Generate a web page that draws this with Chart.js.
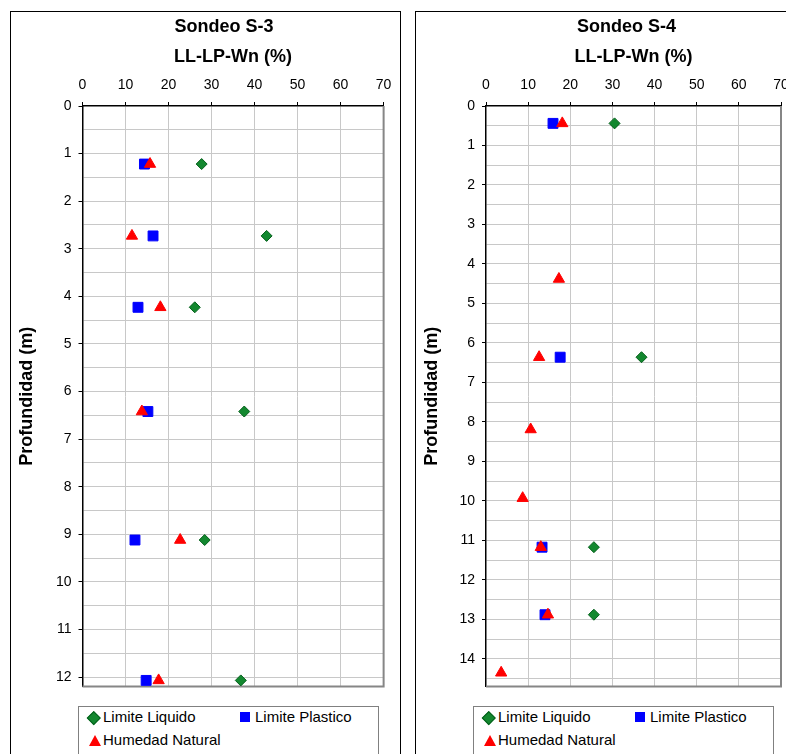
<!DOCTYPE html>
<html>
<head>
<meta charset="utf-8">
<script src="https://cdn.jsdelivr.net/npm/chart.js@4.4.1/dist/chart.umd.min.js"></script>
<style>
  body { margin: 0; width: 786px; height: 754px; overflow: hidden; background: #fff; position: relative;
         font-family: 'Liberation Sans', Arial, sans-serif; }
  .box { position: absolute; top: 11px; height: 800px; border: 1px solid #000; box-sizing: border-box; }
  canvas { position: absolute; }
  .legend { position: absolute; top: 706px; width: 301px; height: 80px; border: 1px solid #808080;
            box-sizing: border-box; font-size: 15px; color: #000; background: #fff; }
  .legend span { position: absolute; line-height: 18px; white-space: nowrap; }
  .diamond { position: absolute; width: 7.5px; height: 7.5px; background: #13882f; border: 0.5px solid #05601c;
             transform: rotate(45deg); left: 10px; top: 5.5px; }
  .square { position: absolute; width: 10px; height: 10px; background: #0000ff; left: 161px; top: 5px; }
  .triangle { position: absolute; width: 0; height: 0; border-left: 6px solid transparent;
              border-right: 6px solid transparent; border-bottom: 11px solid #ff0000; left: 10px; top: 27.5px; }
</style>
</head>
<body>
<div class="box" style="left:10px; width:391px;"></div>
<div class="box" style="left:415px; width:400px;"></div>
<canvas id="s3" width="389" height="690" style="left:11px; top:12px;"></canvas>
<canvas id="s4" width="390" height="690" style="left:416px; top:12px;"></canvas>

<div class="legend" style="left:78px;">
  <div class="diamond"></div><span style="left:24px; top:1px;">Limite Liquido</span>
  <div class="square"></div><span style="left:176px; top:1px;">Limite Plastico</span>
  <div class="triangle"></div><span style="left:24px; top:24px;">Humedad Natural</span>
</div>
<div class="legend" style="left:473px;">
  <div class="diamond"></div><span style="left:24px; top:1px;">Limite Liquido</span>
  <div class="square"></div><span style="left:176px; top:1px;">Limite Plastico</span>
  <div class="triangle"></div><span style="left:24px; top:24px;">Humedad Natural</span>
</div>

<script>
// series names
const seriesNames = ['Limite Liquido', 'Limite Plastico', 'Humedad Natural'];

// Sondeo S-3: depth (m) and values (%) per sample
const s3Depth = [1.22, 2.73, 4.23, 6.42, 9.12, 12.07];
const s3LL = [27.7, 42.8, 26.1, 37.6, 28.4, 36.8];
const s3LP = [14.4, 16.4, 12.9, 15.2, 12.2, 14.8];
const s3Wn = [15.7, 11.5, 18.1, 13.8, 22.7, 17.7];

// Sondeo S-4
const s4Depth = [0.44, 4.38, 6.36, 8.19, 9.93, 11.17, 12.88, 14.35];
const s4LL = [30.5, null, 36.9, null, null, 25.6, 25.6, null];
const s4LP = [15.9, null, 17.6, null, null, 13.3, 14.0, null];
const s4Wn = [18.1, 17.3, 12.6, 10.6, 8.7, 13.0, 14.7, 3.6];

Chart.defaults.font.family = "'Liberation Sans', Arial, sans-serif";
Chart.defaults.color = '#000';

// center the chart title a bit left of the plot area, like the original
const titleShift = {
  id: 'titleShift',
  afterLayout(chart, args, opts) {
    const tb = chart.titleBlock, ca = chart.chartArea;
    const w = tb.right - tb.left;
    const c = (ca.left + ca.right) / 2 + opts.dx;
    tb.left = c - w / 2;
    tb.right = c + w / 2;
  }
};

// gray plot area frame on right and bottom
const plotFrame = {
  id: 'plotFrame',
  beforeDatasetsDraw(chart) {
    const { ctx, chartArea: a } = chart;
    ctx.save();
    ctx.strokeStyle = '#868686';
    ctx.lineWidth = 2;
    ctx.beginPath();
    ctx.moveTo(a.right, a.top);
    ctx.lineTo(a.right, a.bottom);
    ctx.lineTo(a.left, a.bottom);
    ctx.stroke();
    ctx.restore();
  }
};

function toPoints(depths, vals) {
  const pts = [];
  depths.forEach((d, i) => { if (vals[i] != null) pts.push({ x: vals[i], y: d }); });
  return pts;
}

function makeChart(id, name, depths, ll, lp, wn, yMax, axisW, padRight, dx) {
  new Chart(document.getElementById(id), {
    type: 'scatter',
    plugins: [titleShift, plotFrame],
    data: {
      datasets: [
        { label: seriesNames[0], data: toPoints(depths, ll), order: 2, pointStyle: 'rectRot', pointRadius: 5.5,
          backgroundColor: '#13882f', borderColor: '#05601c', borderWidth: 1 },
        { label: seriesNames[1], data: toPoints(depths, lp), order: 1, pointStyle: 'rect', pointRadius: 7,
          backgroundColor: '#0000ff', borderColor: '#0000ff', borderWidth: 1 },
        { label: seriesNames[2], data: toPoints(depths, wn), order: 0, pointStyle: 'triangle', pointRadius: 6.5,
          backgroundColor: '#ff0000', borderColor: '#ff0000', borderWidth: 1 }
      ]
    },
    options: {
      responsive: false,
      animation: false,
      events: [],
      layout: { padding: { left: 0, right: padRight, top: 0, bottom: 14 } },
      plugins: {
        legend: { display: false },
        tooltip: { enabled: false },
        title: { display: true, text: name, color: '#000', font: { size: 18, weight: 'bold' },
                 padding: { top: 4, bottom: 4 } },
        titleShift: { dx: dx }
      },
      scales: {
        x: {
          type: 'linear', position: 'top', min: 0, max: 70,
          ticks: { stepSize: 10, color: '#000', font: { size: 14 }, padding: 8.6 },
          grid: { color: c => (c.tick && c.tick.value === 0 ? 'rgba(0,0,0,0)' : '#c8c8c8'),
                  tickColor: '#000', tickLength: 4, lineWidth: 1 },
          border: { color: '#000', width: 1.5 },
          title: { display: true, text: 'LL-LP-Wn (%)', color: '#000', font: { size: 18, weight: 'bold' },
                   padding: { top: 4.6, bottom: 0 } },
          afterFit: s => { s.height = 64.4; }
        },
        y: {
          type: 'linear', reverse: true, min: 0, max: yMax,
          ticks: { stepSize: 0.5, autoSkip: false, includeBounds: false, color: '#000', font: { size: 14 }, padding: 7,
                   callback: v => (Number.isInteger(v) ? v : '') },
          grid: { color: c => (c.tick && c.tick.value === 0 ? 'rgba(0,0,0,0)' : '#c8c8c8'),
                  tickColor: c => (c.tick && Number.isInteger(c.tick.value) ? '#000' : 'rgba(0,0,0,0)'),
                  tickLength: 4, lineWidth: 1 },
          border: { color: '#000', width: 1.5 },
          title: { display: true, text: 'Profundidad (m)', color: '#000', font: { size: 18, weight: 'bold' },
                   padding: { top: 5.2, bottom: 0 } },
          afterFit: s => { s.width = axisW; }
        }
      }
    }
  });
}

makeChart('s3', 'Sondeo S-3', s3Depth, s3LL, s3LP, s3Wn, 12.2, 71.5, 14.5, -9);
makeChart('s4', 'Sondeo S-4', s4Depth, s4LL, s4LP, s4Wn, 14.7, 70, 25, -7);
</script>
</body>
</html>
